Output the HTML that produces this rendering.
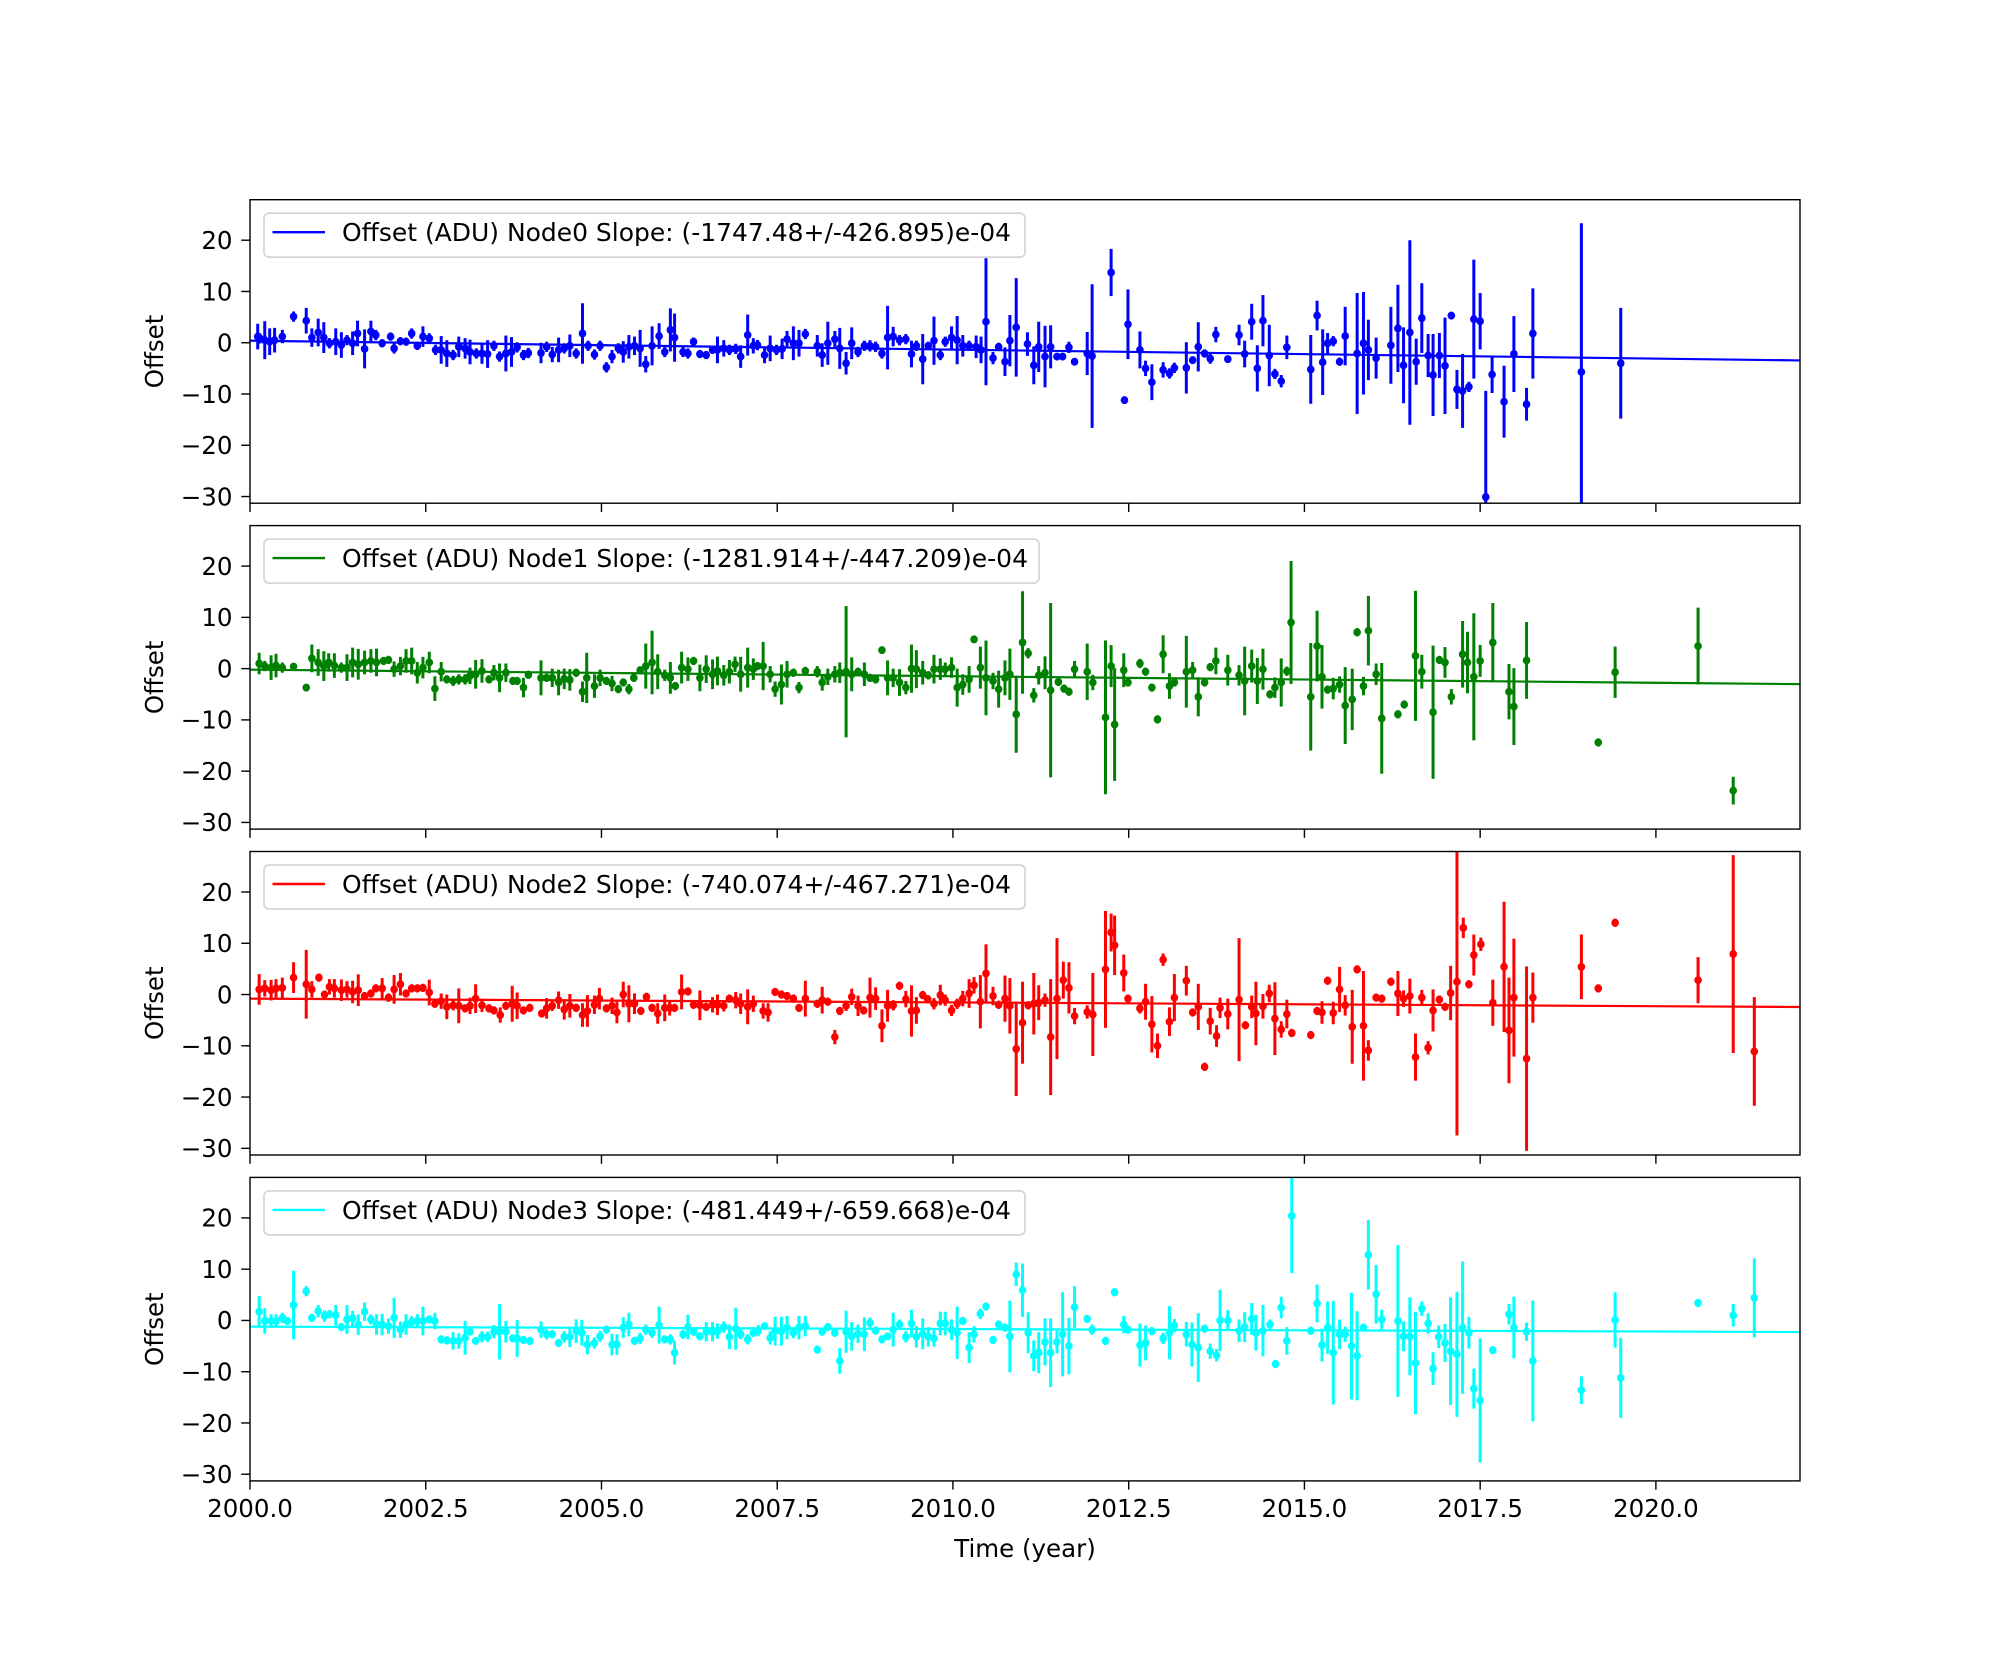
<!DOCTYPE html>
<html><head><meta charset="utf-8">
<style>
html,body{margin:0;padding:0;background:#fff;}
svg{display:block;font-family:"DejaVu Sans","Liberation Sans",sans-serif;}
</style></head>
<body>
<svg id="fig" width="2000" height="1664" viewBox="0 0 2000 1664" xmlns="http://www.w3.org/2000/svg">
<rect width="2000" height="1664" fill="#fff"/>
</svg>
<script>
const xTicks = [2000, 2002.5, 2005, 2007.5, 2010, 2012.5, 2015, 2017.5, 2020];
const xTickLabels = ["2000.0","2002.5","2005.0","2007.5","2010.0","2012.5","2015.0","2017.5","2020.0"];
const yTicks = [-30, -20, -10, 0, 10, 20];
const yTickLabels = ["\u221230","\u221220","\u221210","0","10","20"];
const nodeNames = ["Node0","Node1","Node2","Node3"];
const nodeColors = ["#0000ff","#008000","#ff0000","#00ffff"];
const legendTexts = [
 "Offset (ADU) Node0 Slope: (-1747.48+/-426.895)e-04",
 "Offset (ADU) Node1 Slope: (-1281.914+/-447.209)e-04",
 "Offset (ADU) Node2 Slope: (-740.074+/-467.271)e-04",
 "Offset (ADU) Node3 Slope: (-481.449+/-659.668)e-04"];
const fitSlopes = [-0.174748, -0.1281914, -0.0740074, -0.0481449];
const fitIntercepts = [0.4, -0.2, -0.8, -1.2];

// [year, offset, error]
const node0 = [
[2000.11,1.2,2.5],[2000.14,0.85,1],[2000.21,0.5,3.7],[2000.28,0.2,2.6],[2000.35,0.5,2.4],[2000.46,1.2,1.3],[2000.62,5.1,1],[2000.80,4.3,2.5],[2000.88,1.0,1.8],[2000.97,2.0,2.7],
[2001.05,1.0,3],[2001.13,-0.1,1],[2001.22,0.2,2.6],[2001.30,-0.45,2.5],[2001.38,0.5,1],[2001.46,-0.1,2.3],[2001.53,1.8,2.5],[2001.63,-1.2,3.8],[2001.72,2.2,2.1],[2001.79,1.5,1],
[2001.88,-0.1,0.8],[2002.00,1.2,0.8],[2002.05,-1.1,1],[2002.14,0.3,0.8],[2002.22,0.2,0.8],[2002.30,1.8,1],[2002.38,-0.6,0.8],[2002.46,1.2,2],[2002.55,0.85,1],[2002.64,-1.4,1],
[2002.72,-1.4,2.7],[2002.80,-2.1,2.6],[2002.89,-2.4,1],[2002.97,-0.8,2],[2003.06,-1.1,2],[2003.13,-1.8,2.4],[2003.22,-2.1,1],[2003.30,-2.1,2],[2003.38,-2.2,2.7],[2003.47,-0.6,1],
[2003.55,-2.7,1],[2003.64,-2.1,3.5],[2003.72,-1.8,2.9],[2003.80,-0.9,1],[2003.89,-2.4,1],[2003.96,-2.0,1],[2004.14,-2.0,2],[2004.22,-0.8,1],[2004.30,-2.3,1.5],[2004.39,-1.4,2.4],
[2004.47,-1.1,1],[2004.55,-0.6,2.2],[2004.64,-2.1,1],[2004.73,1.8,5.9],[2004.81,-0.6,1],[2004.90,-2.3,1],[2004.98,-0.6,1],[2005.07,-4.8,1],[2005.15,-2.7,1.3],[2005.24,-1.1,1],
[2005.31,-1.8,2.1],[2005.39,-0.8,2.3],[2005.47,-0.6,1.8],[2005.55,-1.1,3.6],[2005.63,-4.2,1.6],[2005.72,-0.6,3.8],[2005.82,1.3,2.5],[2005.90,-1.8,1],[2005.98,2.5,4.2],[2006.04,1.0,4.7],
[2006.16,-1.8,1],[2006.23,-2.1,1],[2006.31,0.2,0.8],[2006.40,-2.2,0.8],[2006.49,-2.4,0.8],[2006.58,-1.4,0.8],[2006.65,-1.4,2.6],[2006.74,-1.1,1.6],[2006.82,-1.4,1],[2006.91,-1.2,1],
[2006.98,-2.7,2.2],[2007.08,1.5,4],[2007.16,-0.6,1.5],[2007.22,-0.45,1],[2007.32,-2.4,1.6],[2007.40,-1.1,2.5],[2007.49,-1.4,1],[2007.57,-1.2,2],[2007.64,0.7,1.6],[2007.73,-0.1,3.3],
[2007.81,-0.1,2.6],[2007.90,1.7,1],[2008.07,-0.6,2.1],[2008.14,-2.4,2.3],[2008.22,-0.1,4.2],[2008.32,0.7,1.6],[2008.39,-1.1,4],[2008.48,-4.0,2.2],[2008.56,-0.1,3.1],[2008.65,-1.8,1],
[2008.74,-0.6,1],[2008.82,-0.6,1.1],[2008.90,-0.8,1],[2008.99,-2.1,1],[2009.07,1.0,6.2],[2009.15,1.2,1.9],[2009.24,0.5,1],[2009.33,0.7,1],[2009.41,-2.2,2.6],[2009.48,-0.6,1],
[2009.57,-3.2,4.9],[2009.65,-0.6,0.8],[2009.73,0.4,4.7],[2009.82,-2.4,1],[2009.89,0.2,1],[2009.98,1.0,2.2],[2010.06,0.5,4.7],[2010.14,-0.6,2.1],[2010.23,-0.6,1],[2010.33,-0.8,2.2],
[2010.40,-1.4,2.6],[2010.47,4.1,12.4],[2010.57,-3.0,1.2],[2010.65,-0.8,0.8],[2010.74,-3.7,2.8],[2010.81,0.4,5],[2010.90,3.0,9.6],
[2011.06,-0.26,2.3],[2011.15,-4.4,3.7],[2011.22,-0.8,4.9],[2011.31,-2.7,6],[2011.39,-0.8,4.2],[2011.48,-2.7,0.5],[2011.56,-2.7,0.5],[2011.65,-0.9,1.1],[2011.73,-3.7,0.7],[2011.91,-2.1,4.2],
[2011.98,-2.6,14],[2012.25,13.7,4.6],[2012.44,-11.2,0.6],[2012.49,3.6,6.8],[2012.66,-1.4,3.6],[2012.74,-5.0,1.5],[2012.83,-7.7,3.5],[2012.99,-5.3,1.5],[2013.08,-6.0,1],[2013.15,-4.9,1],
[2013.32,-4.9,5],[2013.41,-3.4,0.7],[2013.49,-0.8,4.8],[2013.58,-2.1,0.8],[2013.66,-3.1,1],[2013.74,1.6,1.5],[2013.91,-3.2,0.6],[2014.07,1.5,2],[2014.15,-2.2,2.6],[2014.25,4.1,3.5],
[2014.33,-5.0,4.5],[2014.41,4.3,5],[2014.50,-2.5,6],[2014.58,-6.1,1],[2014.67,-7.5,1.2],[2014.75,-0.9,2.3],[2015.09,-5.2,6.7],[2015.18,5.3,2.9],[2015.26,-3.8,6.4],[2015.33,-0.1,2],
[2015.41,0.3,1],[2015.50,-3.7,0.8],[2015.58,1.3,5.7],[2015.75,-2.1,11.8],[2015.84,-0.1,10],[2015.91,-1.4,5.9],[2016.02,-3.0,4],[2016.23,-0.5,7.5],[2016.33,2.8,8.5],[2016.41,-4.4,7.4],
[2016.50,2.0,18],[2016.59,-3.7,4.5],[2016.67,4.8,6.8],[2016.76,-2.5,4.2],[2016.83,-6.3,8],[2016.92,-2.5,4.4],[2017.00,-4.5,9.4],[2017.09,5.3,0.7],[2017.17,-9.1,3.8],[2017.25,-9.4,7.2],
[2017.34,-8.6,1],[2017.41,4.6,11.6],[2017.50,4.2,5.5],[2017.58,-30.1,20.7],[2017.67,-6.2,3.6],[2017.84,-11.5,7],[2017.98,-2.2,7.4],[2018.16,-12.0,3.2],[2018.25,1.8,8.8],[2018.94,-5.7,29],
[2019.50,-4.0,10.8]];

const node1 = [
[2000.13,1.0,2.1],[2000.21,0.5,1],[2000.30,0.2,2.4],[2000.37,0.6,2.3],[2000.46,0.2,1],[2000.62,0.4,0.7],[2000.80,-3.7,0.7],[2000.88,2.0,2.7],[2000.97,1.2,2.6],[2001.05,0.5,2.9],
[2001.12,1.2,1.8],[2001.20,0.6,2.4],[2001.30,0.2,1],[2001.38,0.2,2.6],[2001.46,1.2,2.9],[2001.54,0.85,3],[2001.63,1.2,2.3],[2001.72,1.5,2.3],[2001.80,1.2,2.7],[2001.90,1.5,0.8],
[2001.97,1.7,0.8],[2002.05,-0.1,1.5],[2002.14,0.5,1.8],[2002.22,1.5,2.3],[2002.30,1.5,2.6],[2002.38,-0.8,2.1],[2002.46,0.2,2.1],[2002.55,1.2,2.1],[2002.63,-3.9,2.4],[2002.72,-0.6,1.9],
[2002.80,-2.1,0.8],[2002.89,-2.4,1],[2002.97,-2.1,1],[2003.06,-2.1,1],[2003.13,-1.4,1.6],[2003.21,-1.1,2.8],[2003.30,-0.45,2.3],[2003.40,-2.1,0.8],[2003.47,-0.8,1.5],[2003.55,-1.8,2.8],
[2003.64,-0.8,1.8],[2003.74,-2.4,0.8],[2003.80,-2.4,0.8],[2003.89,-3.7,1.9],[2003.96,-1.2,0.8],[2004.14,-1.8,3.4],[2004.22,-1.8,0.8],[2004.30,-1.8,1.8],[2004.39,-2.7,2.5],[2004.47,-2.0,2],
[2004.55,-2.2,2.1],[2004.64,-0.8,0.8],[2004.73,-4.5,2],[2004.79,-1.8,4.9],[2004.90,-3.4,2.3],[2004.98,-1.8,1.6],[2005.07,-2.4,0.8],[2005.15,-2.9,1.5],[2005.24,-4.0,0.8],[2005.31,-2.7,0.8],
[2005.39,-4.0,1],[2005.46,-1.8,0.8],[2005.55,-0.3,0.7],[2005.63,0.5,4.4],[2005.72,1.2,6.2],[2005.80,-0.6,3.4],[2005.90,-1.3,1.1],[2005.98,-1.8,3.1],[2006.05,-3.4,0.8],[2006.14,0.2,3.1],
[2006.23,-0.1,2.3],[2006.31,1.5,0.8],[2006.40,-1.8,2.6],[2006.49,-0.1,2.7],[2006.58,-1.1,2.9],[2006.65,-0.45,2.8],[2006.74,-1.3,2],[2006.82,-0.6,2.3],[2006.90,0.85,1.5],[2006.98,-1.1,3.4],
[2007.08,0.2,3.9],[2007.16,-0.1,2.1],[2007.22,0.5,0.8],[2007.30,0.5,4.7],[2007.40,-1.1,1.6],[2007.47,-4.0,1.5],[2007.56,-3.1,3.9],[2007.64,-1.1,2.6],[2007.73,-0.8,0.8],[2007.81,-3.7,1.1],
[2007.90,-0.45,0.8],[2008.07,-0.6,1.1],[2008.14,-2.7,1.6],[2008.22,-1.6,1.6],[2008.32,-1.1,1.6],[2008.39,-0.8,2],[2008.48,-0.6,12.8],[2008.56,-1.1,3.3],[2008.65,-0.6,0.8],[2008.74,-1.1,2.3],
[2008.82,-1.8,0.8],[2008.90,-2.1,0.8],[2008.99,3.6,0.7],[2009.07,-1.8,3.4],[2009.15,-1.8,1.8],[2009.24,-2.7,2.6],[2009.33,-3.7,1.3],[2009.41,0.0,4.7],[2009.48,-0.1,3.7],[2009.57,-0.8,2.3],
[2009.65,-1.3,0.8],[2009.73,-0.1,2.8],[2009.82,-0.1,2.1],[2009.89,-0.1,1.3],[2009.98,0.2,2],[2010.06,-3.7,3.7],[2010.14,-3.1,2],[2010.23,-2.1,2.6],[2010.30,5.7,0.7],[2010.39,0.2,4.1],
[2010.47,-1.8,7.3],[2010.57,-2.4,1.6],[2010.65,-4.0,3.6],[2010.74,-1.8,3.4],[2010.81,-1.1,5],[2010.90,-8.9,7.5],
[2010.99,5.1,10],[2011.07,3.0,1],[2011.15,-5.2,1.4],[2011.22,-1.3,1.8],[2011.31,-0.8,3.2],[2011.39,-4.2,17],[2011.50,-2.6,0.8],[2011.58,-3.9,0.8],[2011.65,-4.5,0.8],[2011.73,-0.1,1.6],
[2011.91,-0.6,5.5],[2011.99,-2.7,1.5],[2012.17,-9.5,15],[2012.25,0.5,4.1],[2012.30,-10.9,11],[2012.43,-0.3,3.3],[2012.49,-2.7,0.8],[2012.66,1.0,0.9],[2012.74,-0.6,0.8],[2012.83,-3.7,0.8],
[2012.91,-9.9,0.8],[2012.99,2.8,3.7],[2013.08,-3.4,2.5],[2013.15,-2.7,0.8],[2013.32,-0.6,7],[2013.41,-0.3,1.6],[2013.49,-5.5,3.8],[2013.58,-2.7,0.8],[2013.66,0.3,0.8],[2013.74,1.5,2.6],
[2013.91,-0.3,3],[2014.07,-1.3,2],[2014.15,-2.4,6.7],[2014.25,0.5,3.2],[2014.33,-2.4,4.5],[2014.41,-0.1,4],[2014.51,-5.0,0.8],[2014.58,-3.7,2],[2014.67,-2.7,4.7],[2014.75,-0.5,0.9],
[2014.81,9.0,12],[2015.09,-5.5,10.5],[2015.18,4.4,6.9],[2015.25,-1.6,6.2],[2015.33,-4.1,0.8],[2015.41,-3.9,2.1],[2015.50,-3.1,1.6],[2015.58,-7.2,7.5],[2015.68,-6.0,6],[2015.75,7.1,0.8],
[2015.84,-3.4,1.8],[2015.91,7.4,6.8],[2016.02,-1.1,2.1],[2016.10,-9.7,10.8],[2016.33,-8.9,0.8],[2016.42,-7.0,0.8],[2016.58,2.5,12.7],[2016.67,-0.6,3.3],[2016.83,-8.5,13],[2016.92,1.7,0.8],
[2017.00,1.2,3],[2017.09,-5.5,1.5],[2017.25,2.8,6.5],[2017.32,1.2,6],[2017.41,-1.6,12.4],[2017.50,1.5,3.1],[2017.68,5.1,7.7],[2017.91,-4.5,5.4],[2017.98,-7.4,7.5],[2018.16,1.6,7.5],
[2019.18,-14.4,0.8],[2019.42,-0.7,5],[2020.60,4.4,7.5],[2021.10,-23.8,2.7]];

const node2 = [
[2000.13,1.0,3],[2000.21,1.2,1.6],[2000.30,0.85,2],[2000.37,1.2,1.8],[2000.46,1.3,2],[2000.62,3.3,3],[2000.80,2.0,6.7],[2000.88,1.0,1.6],[2000.98,3.3,0.8],[2001.06,0.0,0.8],
[2001.13,1.5,1.5],[2001.20,1.2,1.8],[2001.30,0.85,2.1],[2001.38,1.0,1.6],[2001.46,0.5,2.2],[2001.54,0.85,3.1],[2001.63,-0.3,0.8],[2001.72,0.2,0.8],[2001.79,1.2,0.8],[2001.88,1.2,2],
[2001.97,-0.6,0.8],[2002.05,1.0,2.8],[2002.14,2.0,2.2],[2002.22,0.2,0.8],[2002.30,1.2,0.8],[2002.38,1.2,0.8],[2002.46,1.3,0.8],[2002.55,0.4,2.5],[2002.63,-1.8,0.8],[2002.72,-1.3,1.5],
[2002.80,-2.4,2.4],[2002.89,-2.1,1],[2002.97,-2.2,3.4],[2003.06,-2.7,0.8],[2003.13,-2.2,1.6],[2003.21,-0.8,2.8],[2003.30,-2.1,1.3],[2003.40,-2.7,0.8],[2003.47,-3.1,0.8],[2003.56,-4.0,1.5],
[2003.64,-2.2,0.8],[2003.73,-1.8,3.5],[2003.80,-2.2,2.6],[2003.89,-3.1,0.8],[2003.98,-2.6,0.8],[2004.15,-3.7,0.8],[2004.22,-2.7,2],[2004.30,-2.2,1],[2004.39,-1.1,1.7],[2004.47,-2.9,2],
[2004.55,-2.2,2.3],[2004.64,-2.6,0.8],[2004.73,-4.0,2.3],[2004.80,-3.2,3.1],[2004.90,-2.0,1.8],[2004.97,-0.8,2.1],[2005.07,-2.7,0.8],[2005.15,-2.2,1.6],[2005.22,-3.5,2.1],[2005.31,0.0,2.5],
[2005.39,-1.8,3.6],[2005.47,-1.8,2],[2005.56,-3.2,0.8],[2005.64,-0.45,0.8],[2005.72,-2.6,0.8],[2005.80,-3.7,2],[2005.90,-2.6,2.6],[2005.97,-2.6,1.5],[2006.04,-2.6,0.8],[2006.14,0.5,3.4],
[2006.23,0.6,0.8],[2006.31,-2.0,0.8],[2006.40,-2.1,2.9],[2006.49,-2.4,0.8],[2006.58,-2.0,1.5],[2006.65,-2.0,2],[2006.74,-2.2,1.1],[2006.82,-0.8,0.8],[2006.91,-1.1,1.6],[2006.98,-1.8,2],
[2007.08,-2.4,3.4],[2007.16,-1.8,1.6],[2007.30,-3.2,1.5],[2007.37,-3.5,1.8],[2007.47,0.5,0.8],[2007.56,0.0,0.8],[2007.64,-0.3,0.8],[2007.73,-0.8,0.8],[2007.81,-2.6,0.8],[2007.90,-0.8,3.5],
[2008.07,-1.8,0.8],[2008.14,-1.1,2.6],[2008.22,-1.4,0.8],[2008.32,-8.3,1.4],[2008.39,-3.2,0.8],[2008.48,-2.2,1],[2008.56,-0.45,1.6],[2008.65,-2.2,2],[2008.73,-3.1,0.8],[2008.82,-0.6,3.9],
[2008.90,-0.8,2.2],[2008.99,-6.1,3.2],[2009.07,-2.2,3.1],[2009.15,-2.1,1],[2009.24,1.7,0.8],[2009.33,-0.9,1.6],[2009.41,-3.2,5],[2009.48,-3.1,2.6],[2009.57,-0.1,0.8],[2009.64,-0.9,0.8],
[2009.73,-1.8,1.1],[2009.82,-0.1,2],[2009.89,-1.1,1.1],[2009.98,-3.1,1.1],[2010.06,-1.8,1],[2010.14,-0.8,1.5],[2010.23,0.2,2.8],[2010.30,1.8,1.6],[2010.39,-1.4,5.2],[2010.47,4.1,5.7],
[2010.57,-0.3,1.8],[2010.65,-2.0,0.8],[2010.74,-0.8,4.5],[2010.81,-2.2,5.4],[2010.90,-10.6,9.2],
[2010.99,-5.5,8],[2011.07,-2.1,0.8],[2011.15,-1.8,6],[2011.22,-1.6,3.4],[2011.31,-1.1,1.3],[2011.39,-8.3,11.3],[2011.48,-0.8,11.8],[2011.57,2.8,3.6],[2011.65,1.3,5],[2011.73,-4.2,1.6],
[2011.91,-3.4,1.3],[2011.99,-3.9,8.1],[2012.17,4.9,11.4],[2012.25,12.1,3.7],[2012.30,9.6,5.8],[2012.43,4.2,3.6],[2012.49,-0.8,0.8],[2012.66,-2.7,1],[2012.74,-1.4,3.5],[2012.83,-5.8,5.5],
[2012.91,-10.0,2.4],[2012.99,6.8,1.2],[2013.08,-5.3,2.8],[2013.15,-0.6,4.6],[2013.32,2.7,2.9],[2013.41,-3.5,0.8],[2013.49,-2.4,4.5],[2013.58,-14.1,0.8],[2013.66,-5.2,2.6],[2013.75,-8.1,2.1],
[2013.80,-2.6,2],[2013.91,-3.8,3],[2014.07,-1.0,12],[2014.16,-6.0,0.8],[2014.25,-2.4,2.2],[2014.31,-3.7,6.2],[2014.41,-2.3,2.4],[2014.50,0.2,1.7],[2014.58,-4.7,7.1],[2014.67,-6.8,1.6],
[2014.75,-3.8,2.8],[2014.82,-7.5,0.8],[2015.09,-7.9,0.8],[2015.18,-3.2,0.8],[2015.25,-3.5,2.2],[2015.33,2.7,0.8],[2015.41,-3.6,2.2],[2015.50,1.0,4.4],[2015.58,-2.1,2],[2015.68,-6.3,7.2],
[2015.75,4.9,0.8],[2015.84,-6.1,10.7],[2015.91,-10.9,2],[2016.02,-0.6,0.8],[2016.10,-0.8,0.8],[2016.23,2.5,0.8],[2016.33,0.2,4.4],[2016.41,-0.8,1.6],[2016.50,-0.3,3.4],[2016.58,-12.2,4.6],
[2016.67,-0.6,1.5],[2016.76,-10.4,1.3],[2016.83,-3.1,4.1],[2016.92,-1.0,0.8],[2017.00,-2.4,0.8],[2017.08,0.3,5.3],[2017.17,2.5,30],[2017.26,13.0,2],[2017.34,2.0,0.8],[2017.41,7.7,4],
[2017.51,9.8,1.3],[2017.68,-1.6,4.5],[2017.84,5.4,12.7],[2017.91,-7.0,10.3],[2017.98,-0.6,11.5],[2018.16,-12.5,18],[2018.25,-0.6,4.9],[2018.94,5.4,6.3],[2019.18,1.2,0.8],[2019.42,14.0,0.8],
[2020.60,2.8,4.5],[2021.10,7.9,19.3],[2021.40,-11.1,10.6]];

const node3 = [
[2000.13,1.7,3.1],[2000.21,-0.1,2.5],[2000.30,-0.1,1.3],[2000.37,-0.1,1.3],[2000.46,0.5,1],[2000.53,-0.1,0.8],[2000.62,3.0,6.7],[2000.80,5.7,1],[2000.88,0.5,0.8],[2000.97,1.8,1.2],
[2001.06,0.85,1.1],[2001.13,1.2,0.8],[2001.22,1.0,2],[2001.30,-1.3,0.8],[2001.38,0.2,2.8],[2001.46,0.4,1.5],[2001.54,-0.8,2],[2001.63,1.7,1.8],[2001.72,0.2,1],[2001.80,-0.8,2],
[2001.88,-0.8,2.1],[2001.97,-1.1,1.5],[2002.05,0.5,3.9],[2002.14,-1.8,1.6],[2002.22,-0.8,2],[2002.30,-0.3,1.1],[2002.38,-0.1,1.3],[2002.46,-0.1,2.8],[2002.55,0.2,0.8],[2002.63,-0.1,1.6],
[2002.72,-3.7,0.8],[2002.80,-3.9,0.8],[2002.89,-4.0,1.7],[2002.97,-4.0,1.5],[2003.06,-3.4,3.3],[2003.13,-2.2,0.7],[2003.21,-4.0,0.7],[2003.30,-3.2,1.1],[2003.38,-3.2,1],[2003.47,-2.2,1.3],
[2003.55,-2.2,5.4],[2003.64,-2.2,2.1],[2003.74,-3.5,0.8],[2003.80,-3.5,3.6],[2003.89,-3.8,0.8],[2003.98,-4.0,0.8],[2004.14,-1.8,1.6],[2004.22,-2.7,1],[2004.30,-2.7,0.8],[2004.39,-4.4,0.8],
[2004.47,-3.2,1.1],[2004.55,-3.2,2],[2004.64,-2.1,2.3],[2004.72,-2.4,2.5],[2004.80,-4.7,1.9],[2004.90,-4.4,1.1],[2004.98,-3.1,1.1],[2005.07,-1.8,0.8],[2005.15,-4.7,2.1],[2005.22,-4.7,2],
[2005.31,-1.4,2],[2005.39,-0.8,2.3],[2005.47,-4.0,0.8],[2005.55,-3.5,1.1],[2005.63,-1.8,1],[2005.72,-2.4,1],[2005.82,-0.9,3.6],[2005.90,-3.7,0.8],[2005.98,-3.7,1],[2006.04,-6.3,2.3],
[2006.16,-2.7,0.9],[2006.23,-1.3,2.4],[2006.31,-2.2,0.8],[2006.40,-3.1,0.8],[2006.49,-2.2,1.9],[2006.58,-2.2,1.9],[2006.65,-2.1,1.5],[2006.74,-1.3,1.1],[2006.82,-3.2,2.4],[2006.91,-1.6,4.1],
[2006.98,-2.7,1],[2007.08,-3.7,1],[2007.16,-2.4,0.8],[2007.23,-2.0,1.1],[2007.32,-1.1,0.7],[2007.40,-3.4,1.3],[2007.47,-2.1,2.8],[2007.56,-2.1,2.8],[2007.64,-1.4,2.3],[2007.73,-2.4,1.1],
[2007.81,-1.4,2.3],[2007.90,-1.1,2],[2008.07,-5.7,0.8],[2008.14,-2.2,0.8],[2008.22,-1.3,0.8],[2008.32,-2.4,0.8],[2008.39,-7.9,2.5],[2008.48,-2.2,4.1],[2008.56,-3.1,2.8],[2008.65,-2.6,1.8],
[2008.74,-2.7,3.3],[2008.82,-0.45,1],[2008.90,-2.0,0.8],[2008.99,-3.7,0.8],[2009.07,-3.1,0.7],[2009.15,-1.8,3.3],[2009.24,-0.8,1],[2009.33,-3.2,1.1],[2009.41,-0.6,2.7],[2009.48,-3.2,2.1],
[2009.57,-2.6,3],[2009.65,-3.2,1.9],[2009.73,-3.5,1.6],[2009.82,-0.6,2.3],[2009.89,-0.6,2.3],[2009.98,-1.8,2],[2010.06,-2.4,5.1],[2010.14,-0.1,0.8],[2010.23,-5.3,3],[2010.30,-2.7,1.6],
[2010.39,1.3,1],[2010.47,2.7,0.8],[2010.57,-3.8,0.8],[2010.65,-0.8,0.8],[2010.74,-1.4,0.8],[2010.81,-3.1,7],[2010.90,9.0,2.3],
[2010.99,5.9,5.2],[2011.07,-2.4,4],[2011.15,-6.9,3],[2011.22,-6.3,4],[2011.31,-4.2,4.6],[2011.39,-6.3,6.7],[2011.48,-4.2,2.2],[2011.56,-2.7,8.2],[2011.65,-5.0,5.5],[2011.73,2.6,4.1],
[2011.91,0.3,0.8],[2011.98,-1.8,1],[2012.17,-4.0,0.8],[2012.30,5.5,0.8],[2012.43,-0.8,1.7],[2012.49,-1.8,0.8],[2012.66,-4.8,4.2],[2012.74,-4.4,3.4],[2012.83,-2.1,0.8],[2012.99,-3.5,1.1],
[2013.08,-2.4,5.2],[2013.15,-1.0,1.3],[2013.32,-2.7,2.4],[2013.40,-4.7,4.3],[2013.49,-5.3,6.7],[2013.58,-1.6,0.8],[2013.66,-6.0,1.5],[2013.75,-6.8,1.2],[2013.80,0.0,6],[2013.91,0.0,2],
[2014.07,-2.0,2.2],[2014.15,-1.3,2.9],[2014.25,0.3,3.1],[2014.31,-2.4,3.5],[2014.41,-2.0,5],[2014.51,-0.8,1],[2014.59,-8.5,0.8],[2014.67,2.5,2.1],[2014.75,-4.0,2.7],[2014.82,20.4,11.2],
[2015.09,-2.0,0.8],[2015.18,3.3,3.7],[2015.25,-4.8,3.2],[2015.33,-1.4,5.1],[2015.41,-6.3,10.1],[2015.50,-2.7,2.9],[2015.58,-2.7,1.5],[2015.67,-5.0,10.4],[2015.75,-6.9,8.7],[2015.84,-1.4,0.8],
[2015.91,12.8,6.8],[2016.02,5.1,5.7],[2016.10,0.2,1.9],[2016.33,-0.1,14.8],[2016.41,-3.1,2.9],[2016.50,-3.1,7.6],[2016.58,-8.3,10],[2016.67,2.3,1.4],[2016.76,-0.6,2],[2016.83,-9.4,3.2],
[2016.91,-3.2,2.2],[2017.00,-4.4,3.7],[2017.08,-6.0,10.5],[2017.17,-6.6,12.2],[2017.25,-1.4,12.9],[2017.34,-2.4,3.1],[2017.41,-13.3,3.9],[2017.50,-15.6,12.1],[2017.68,-5.8,0.8],[2017.91,1.2,2],
[2017.98,-1.4,6],[2018.16,-2.2,1.8],[2018.25,-7.9,11.8],[2018.94,-13.6,2.7],[2019.42,0.1,5.4],[2019.50,-11.2,7.8],[2020.60,3.4,0.8],[2021.10,1.0,2.2],[2021.40,4.4,7.7]];

const nodeData = [node0, node1, node2, node3];

const NS = "http://www.w3.org/2000/svg";
const svg = document.getElementById('fig');
const AX_L = 250, AX_R = 1800, AX_H = 303.5;
const AX_TOPS = [199.7, 525.6, 851.5, 1177.4];
const X_MIN = 2000, X_MAX = 2022.05;
const Y_MIN = -31.3, Y_MAX = 27.9;
const FS = 24.5;
const TICK = 8.75;
const legendWidths = [761, 775, 761, 761];
const legendTextWidths = [669, 686, 669, 669];

function xScale(t){ return AX_L + (t - X_MIN) / (X_MAX - X_MIN) * (AX_R - AX_L); }
function yScale(v, top){ return top + (Y_MAX - v) / (Y_MAX - Y_MIN) * AX_H; }
function mk(tag, attrs, parent){
  const e = document.createElementNS(NS, tag);
  for (const k in attrs) e.setAttribute(k, attrs[k]);
  (parent || svg).appendChild(e);
  return e;
}

const defs = mk('defs', {});
for (let p = 0; p < 4; p++) {
  const top = AX_TOPS[p];
  const cp = mk('clipPath', {id: 'clip' + p}, defs);
  mk('rect', {x: AX_L, y: top, width: AX_R - AX_L, height: AX_H}, cp);

  const g = mk('g', {});
  
  

  const mg = mk('g', {'clip-path': 'url(#clip' + p + ')'}, g);
  
  
  const col = nodeColors[p];
  const fit = mk('line', {x1: xScale(X_MIN), x2: xScale(X_MAX),
    y1: yScale(fitIntercepts[p], top), y2: yScale(fitIntercepts[p] + fitSlopes[p] * (X_MAX - X_MIN), top),
    stroke: col, 'stroke-width': 2.2}, mg);
  
  
  nodeData[p].forEach(d => {
    const x = xScale(d[0]);
    const eb = mk('line', {x1: x, x2: x, y1: yScale(d[1] + d[2], top), y2: yScale(d[1] - d[2], top),
      stroke: col, 'stroke-width': 3}, mg);
    
    
    const pt = mk('ellipse', {cx: x, cy: yScale(d[1], top), rx: 3.8, ry: 4, fill: col}, mg);
    
    
  });

  const fr = mk('rect', {x: AX_L, y: top, width: AX_R - AX_L, height: AX_H, fill: 'none', stroke: '#000', 'stroke-width': 1.4}, g);
  
  

  yTicks.forEach((v, i) => {
    const y = yScale(v, top);
    const tk = mk('line', {x1: AX_L - TICK, x2: AX_L, y1: y, y2: y, stroke: '#000', 'stroke-width': 1.4}, g);
    
    
    const tl = mk('text', {x: AX_L - 2 * TICK, y: y + 8.8, 'text-anchor': 'end', 'font-size': FS, fill: '#000'}, g);
    tl.textContent = yTickLabels[i];
    
    
  });
  xTicks.forEach((t, i) => {
    const x = xScale(t);
    const tk = mk('line', {x1: x, x2: x, y1: top + AX_H, y2: top + AX_H + TICK, stroke: '#000', 'stroke-width': 1.4}, g);
    
    
    if (p === 3) {
      const tl = mk('text', {x: x, y: top + AX_H + 2 * TICK + 18.5, 'text-anchor': 'middle', 'font-size': FS, fill: '#000'}, g);
      tl.textContent = xTickLabels[i];
      
      
    }
  });
  const yl = mk('text', {x: 0, y: 0, transform: 'translate(163,' + (top + AX_H / 2) + ') rotate(-90)', 'text-anchor': 'middle', 'font-size': FS, fill: '#000'}, g);
  yl.textContent = 'Offset';
  
  

  const lg = mk('g', {}, g);
  
  
  mk('rect', {x: 264, y: top + 13.5, width: legendWidths[p], height: 44, rx: 5, ry: 5, fill: '#fff', 'fill-opacity': 0.8, stroke: '#d6d6d6', 'stroke-width': 1.8}, lg);
  const ll = mk('line', {x1: 272.5, x2: 325, y1: top + 32.5, y2: top + 32.5, stroke: col, 'stroke-width': 2.4}, lg);
  
  
  const lt = mk('text', {x: 342, y: top + 41.5, 'font-size': FS, fill: '#000', textLength: legendTextWidths[p], lengthAdjust: 'spacingAndGlyphs'}, lg);
  lt.textContent = legendTexts[p];
  
  
}
const xl = mk('text', {x: 1025, y: 1557, 'text-anchor': 'middle', 'font-size': FS, fill: '#000'});
xl.textContent = 'Time (year)';


</script>
</body></html>
